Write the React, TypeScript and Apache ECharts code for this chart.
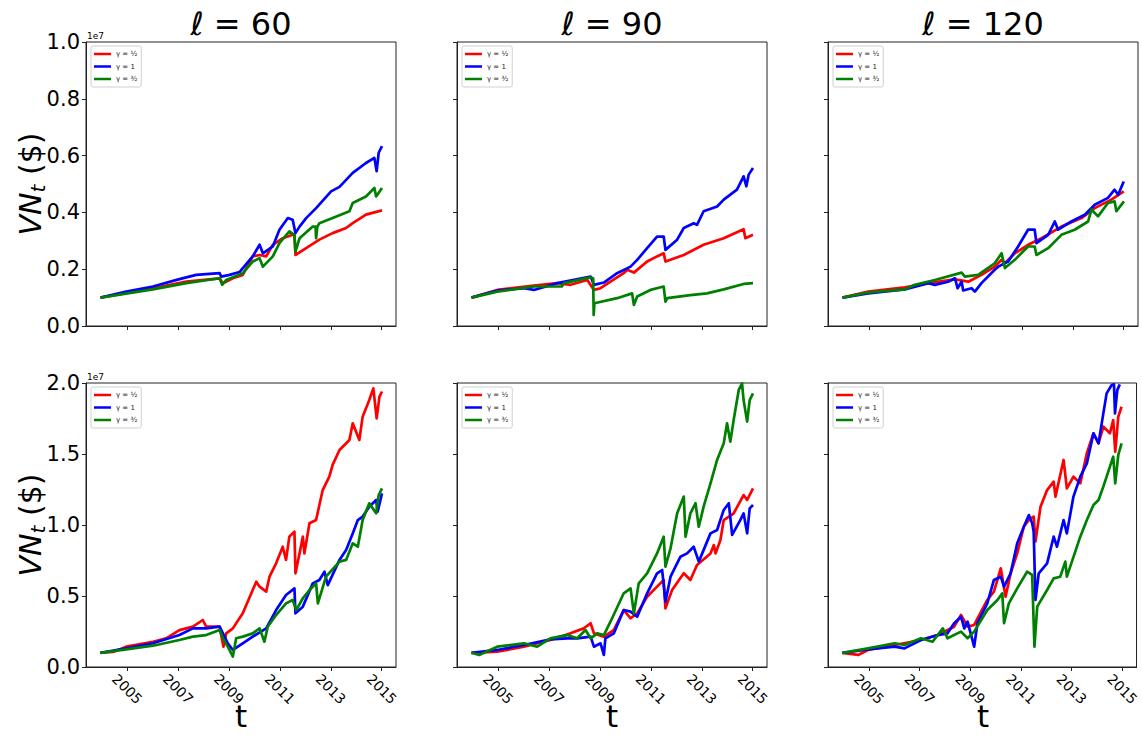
import React, { useEffect, useRef } from "react";
import * as echarts from "echarts";

// ---------- DATA (values in units of 1e7 $) ----------
const windows = [60, 90, 120];
const yearTicks = [2005, 2007, 2009, 2011, 2013, 2015];
const gammaNames = ["γ = ½", "γ = 1", "γ = ³⁄₂"];
const topTicksMax = 1.0;
const bottomTicksMax = 2.0;

// Top row (l = 60)
const red60a = [[2003.95,0.10],[2006.01,0.133],[2007.32,0.156],[2008.63,0.168],[2008.76,0.15],[2009.15,0.168],[2009.54,0.18],[2009.93,0.245],[2010.2,0.25],[2010.46,0.245],[2010.72,0.286],[2011.11,0.309],[2011.5,0.321],[2011.57,0.32],[2011.61,0.25],[2012.03,0.274],[2012.55,0.304],[2013.07,0.327],[2013.6,0.345],[2013.86,0.362],[2014.38,0.392],[2015.01,0.407]];
const blue60a = [[2003.95,0.10],[2004.96,0.121],[2006.01,0.139],[2007.05,0.165],[2007.71,0.18],[2008.63,0.186],[2008.69,0.174],[2009.02,0.18],[2009.41,0.19],[2009.93,0.245],[2010.2,0.286],[2010.33,0.256],[2010.72,0.28],[2010.98,0.339],[2011.31,0.38],[2011.5,0.374],[2011.61,0.327],[2011.77,0.35],[2012.03,0.38],[2012.42,0.415],[2013.01,0.474],[2013.34,0.49],[2013.86,0.539],[2014.38,0.574],[2014.71,0.592],[2014.8,0.545],[2014.88,0.61],[2015.01,0.633]];
const green60a = [[2003.95,0.10],[2006.01,0.129],[2007.32,0.151],[2008.63,0.168],[2008.73,0.145],[2008.89,0.162],[2009.54,0.186],[2009.93,0.227],[2010.2,0.239],[2010.33,0.209],[2010.72,0.245],[2010.98,0.292],[2011.37,0.333],[2011.57,0.32],[2011.61,0.262],[2011.77,0.309],[2012.29,0.35],[2012.4,0.35],[2012.42,0.309],[2012.47,0.35],[2012.55,0.362],[2013.07,0.38],[2013.73,0.404],[2013.86,0.433],[2014.38,0.456],[2014.71,0.486],[2014.78,0.456],[2015.01,0.486]];

// Top row (l = 90)
const red90a = [[2003.95,0.10],[2004.96,0.127],[2006.4,0.142],[2007.32,0.151],[2007.84,0.145],[2008.5,0.162],[2008.76,0.127],[2009.02,0.133],[2009.41,0.156],[2009.93,0.186],[2010.07,0.198],[2010.33,0.188],[2010.85,0.227],[2011.24,0.245],[2011.5,0.256],[2011.57,0.227],[2012.29,0.25],[2013.07,0.286],[2013.86,0.309],[2014.64,0.341],[2014.71,0.309],[2015.01,0.321]];
const blue90a = [[2003.95,0.10],[2004.96,0.125],[2006.01,0.133],[2006.4,0.127],[2007.32,0.151],[2008.63,0.174],[2008.76,0.145],[2009.15,0.153],[2009.67,0.186],[2010.2,0.209],[2010.46,0.233],[2010.85,0.274],[2011.24,0.315],[2011.5,0.315],[2011.57,0.268],[2012.03,0.304],[2012.29,0.345],[2012.68,0.362],[2012.81,0.356],[2013.07,0.404],[2013.6,0.421],[2013.86,0.445],[2014.38,0.48],[2014.64,0.527],[2014.75,0.492],[2014.84,0.533],[2015.01,0.556]];
const green90a = [[2003.95,0.10],[2004.96,0.121],[2006.4,0.139],[2007.5,0.139],[2007.58,0.151],[2008.63,0.171],[2008.73,0.168],[2008.75,0.039],[2008.78,0.08],[2009.67,0.098],[2010.26,0.115],[2010.33,0.074],[2010.46,0.104],[2010.98,0.127],[2011.5,0.139],[2011.57,0.086],[2011.64,0.098],[2012.55,0.109],[2013.2,0.115],[2013.86,0.129],[2014.64,0.148],[2015.01,0.151]];

// Top row (l = 120)
const red120a = [[2003.95,0.10],[2004.96,0.121],[2006.4,0.136],[2007.32,0.151],[2008.37,0.164],[2008.89,0.156],[2009.41,0.18],[2009.93,0.209],[2010.2,0.233],[2010.33,0.221],[2010.72,0.256],[2011.24,0.286],[2011.77,0.309],[2012.55,0.35],[2013.34,0.38],[2013.86,0.415],[2014.51,0.445],[2015.0,0.474]];
const blue120a = [[2003.95,0.10],[2004.96,0.115],[2006.4,0.129],[2007.32,0.151],[2007.58,0.145],[2008.1,0.156],[2008.37,0.168],[2008.47,0.133],[2008.63,0.156],[2008.69,0.125],[2009.02,0.133],[2009.15,0.121],[2009.41,0.151],[2009.93,0.198],[2010.07,0.209],[2010.46,0.227],[2010.85,0.28],[2011.24,0.339],[2011.5,0.339],[2011.57,0.292],[2012.03,0.321],[2012.29,0.368],[2012.42,0.339],[2012.94,0.368],[2013.47,0.392],[2013.86,0.427],[2014.38,0.451],[2014.64,0.48],[2014.78,0.462],[2015.0,0.509]];
const green120a = [[2003.95,0.10],[2004.96,0.118],[2006.4,0.129],[2006.79,0.145],[2007.58,0.162],[2008.63,0.188],[2008.76,0.174],[2009.28,0.18],[2009.93,0.221],[2010.2,0.256],[2010.33,0.204],[2010.72,0.233],[2011.24,0.28],[2011.5,0.28],[2011.57,0.25],[2012.03,0.274],[2012.55,0.321],[2013.07,0.339],[2013.6,0.368],[2013.73,0.41],[2013.99,0.386],[2014.38,0.433],[2014.64,0.439],[2014.71,0.404],[2015.01,0.439]];

// Bottom row (l = 60)
const red60b = [[2003.95,0.101],[2004.44,0.106],[2004.96,0.143],[2006.01,0.178],[2006.53,0.202],[2007.05,0.26],[2007.58,0.284],[2007.97,0.331],[2008.1,0.284],[2008.63,0.284],[2008.78,0.143],[2008.89,0.237],[2009.15,0.272],[2009.54,0.378],[2009.93,0.542],[2010.07,0.601],[2010.2,0.566],[2010.46,0.531],[2010.59,0.636],[2010.85,0.73],[2011.11,0.847],[2011.24,0.754],[2011.37,0.918],[2011.57,0.953],[2011.61,0.66],[2011.77,0.8],[2011.9,0.918],[2011.96,0.8],[2012.16,1.012],[2012.42,1.035],[2012.68,1.246],[2012.94,1.34],[2013.07,1.423],[2013.34,1.528],[2013.73,1.599],[2013.86,1.716],[2014.12,1.599],[2014.25,1.763],[2014.51,1.88],[2014.67,1.962],[2014.8,1.751],[2014.91,1.904],[2015.01,1.94]];
const blue60b = [[2003.95,0.10],[2004.96,0.131],[2006.01,0.167],[2007.05,0.225],[2007.58,0.272],[2008.1,0.272],[2008.63,0.284],[2008.76,0.237],[2008.95,0.167],[2009.15,0.12],[2009.54,0.167],[2009.93,0.214],[2010.46,0.272],[2010.85,0.401],[2011.24,0.507],[2011.57,0.554],[2011.61,0.378],[2011.9,0.425],[2012.29,0.589],[2012.55,0.613],[2012.75,0.671],[2012.88,0.577],[2013.34,0.754],[2013.6,0.824],[2013.86,0.941],[2014.06,1.035],[2014.25,1.059],[2014.51,1.129],[2014.78,1.176],[2014.84,1.094],[2015.01,1.223]];
const green60b = [[2003.95,0.10],[2004.96,0.124],[2006.01,0.15],[2007.05,0.19],[2007.58,0.214],[2008.1,0.225],[2008.63,0.26],[2008.76,0.202],[2008.95,0.143],[2009.15,0.073],[2009.28,0.202],[2009.54,0.214],[2009.93,0.237],[2010.2,0.272],[2010.39,0.178],[2010.52,0.284],[2010.85,0.366],[2011.24,0.448],[2011.5,0.472],[2011.64,0.401],[2011.9,0.484],[2012.16,0.542],[2012.42,0.589],[2012.49,0.448],[2012.81,0.636],[2013.34,0.742],[2013.6,0.754],[2013.86,0.871],[2014.06,0.847],[2014.25,1.035],[2014.51,1.153],[2014.78,1.082],[2014.88,1.211],[2015.01,1.258]];

// Bottom row (l = 90)
const red90b = [[2003.95,0.10],[2004.96,0.108],[2006.01,0.143],[2007.05,0.19],[2007.84,0.237],[2008.36,0.272],[2008.63,0.308],[2008.76,0.237],[2009.15,0.214],[2009.54,0.26],[2009.93,0.401],[2010.2,0.343],[2010.46,0.378],[2010.85,0.495],[2011.24,0.566],[2011.5,0.613],[2011.57,0.413],[2011.83,0.542],[2012.29,0.66],[2012.55,0.613],[2012.81,0.718],[2013.34,0.8],[2013.47,0.859],[2013.54,0.8],[2013.73,0.894],[2013.86,1.035],[2014.25,1.082],[2014.64,1.211],[2014.78,1.176],[2015.01,1.258]];
const blue90b = [[2003.95,0.10],[2004.96,0.12],[2006.01,0.155],[2007.05,0.195],[2007.71,0.202],[2008.1,0.202],[2008.63,0.214],[2008.76,0.143],[2009.02,0.167],[2009.15,0.085],[2009.21,0.202],[2009.54,0.237],[2009.93,0.401],[2010.2,0.39],[2010.46,0.354],[2010.85,0.519],[2011.24,0.66],[2011.44,0.683],[2011.57,0.46],[2011.77,0.636],[2012.16,0.777],[2012.42,0.8],[2012.68,0.847],[2012.88,0.742],[2013.34,0.941],[2013.6,0.965],[2013.86,1.106],[2014.06,1.153],[2014.19,0.93],[2014.51,1.035],[2014.64,1.082],[2014.78,0.941],[2014.88,1.117],[2015.01,1.141]];
const green90b = [[2003.95,0.10],[2004.25,0.085],[2004.96,0.143],[2006.01,0.167],[2006.53,0.143],[2007.05,0.202],[2007.71,0.225],[2008.1,0.202],[2008.43,0.26],[2008.63,0.202],[2008.89,0.237],[2009.15,0.225],[2009.41,0.319],[2009.93,0.519],[2010.2,0.554],[2010.33,0.378],[2010.52,0.589],[2010.85,0.66],[2011.24,0.8],[2011.5,0.918],[2011.57,0.707],[2011.77,0.836],[2012.03,1.082],[2012.29,1.2],[2012.36,0.918],[2012.55,1.082],[2012.75,1.153],[2012.88,0.988],[2013.07,1.129],[2013.34,1.293],[2013.6,1.458],[2013.86,1.575],[2013.99,1.716],[2014.12,1.587],[2014.25,1.739],[2014.45,1.951],[2014.58,1.998],[2014.64,1.88],[2014.78,1.728],[2014.88,1.88],[2015.01,1.927]];

// Bottom row (l = 120)
const red120b = [[2003.95,0.10],[2004.57,0.085],[2004.96,0.12],[2006.01,0.155],[2007.05,0.19],[2007.71,0.225],[2008.36,0.284],[2008.63,0.366],[2008.89,0.284],[2009.15,0.296],[2009.67,0.472],[2009.93,0.531],[2010.2,0.695],[2010.39,0.495],[2010.59,0.66],[2010.85,0.8],[2011.11,0.988],[2011.31,1.035],[2011.5,1.059],[2011.57,0.883],[2011.77,1.129],[2012.03,1.246],[2012.29,1.305],[2012.36,1.2],[2012.68,1.458],[2012.81,1.258],[2013.07,1.34],[2013.34,1.293],[2013.6,1.505],[2013.86,1.646],[2014.06,1.575],[2014.25,1.693],[2014.51,1.646],[2014.64,1.739],[2014.72,1.516],[2014.84,1.763],[2014.97,1.833]];
const blue120b = [[2003.95,0.10],[2004.96,0.124],[2006.01,0.143],[2006.4,0.131],[2007.05,0.19],[2007.71,0.225],[2008.1,0.237],[2008.36,0.308],[2008.63,0.354],[2008.76,0.272],[2008.89,0.319],[2009.15,0.143],[2009.28,0.308],[2009.67,0.448],[2009.93,0.613],[2010.2,0.636],[2010.33,0.566],[2010.59,0.66],[2010.85,0.871],[2011.11,0.988],[2011.31,1.07],[2011.44,1.012],[2011.5,0.953],[2011.57,0.472],[2011.7,0.66],[2012.03,0.73],[2012.29,0.918],[2012.42,0.847],[2012.68,1.035],[2012.81,0.941],[2013.07,1.2],[2013.34,1.34],[2013.6,1.434],[2013.86,1.646],[2014.06,1.575],[2014.25,1.786],[2014.38,1.927],[2014.58,1.986],[2014.67,1.99],[2014.71,1.786],[2014.8,1.95],[2014.9,1.99]];
const green120b = [[2003.95,0.10],[2004.96,0.131],[2006.01,0.167],[2006.4,0.155],[2007.05,0.202],[2007.51,0.178],[2007.91,0.272],[2008.1,0.202],[2008.63,0.249],[2008.89,0.202],[2009.15,0.249],[2009.67,0.401],[2010.07,0.472],[2010.26,0.519],[2010.33,0.308],[2010.52,0.448],[2010.85,0.554],[2011.24,0.671],[2011.44,0.648],[2011.53,0.143],[2011.64,0.425],[2012.03,0.542],[2012.29,0.624],[2012.55,0.636],[2012.75,0.742],[2012.81,0.636],[2013.34,0.918],[2013.6,1.035],[2013.86,1.141],[2014.06,1.176],[2014.25,1.27],[2014.51,1.411],[2014.64,1.481],[2014.72,1.293],[2014.84,1.493],[2014.97,1.575]];

const panelData = [
  [red60a, blue60a, green60a],
  [red90a, blue90a, green90a],
  [red120a, blue120a, green120a],
  [red60b, blue60b, green60b],
  [red90b, blue90b, green90b],
  [red120b, blue120b, green120b],
];

// ---------- LAYOUT / STYLE ----------
const COLORS = ["#ff0000", "#0000ff", "#008000"];
const FONT = "DejaVu Sans";
const COL_LEFT = [86, 457, 828];
const ROW_TOP = [42, 383];
const GW = 310;
const GH = 284;
const X_MIN = 2003.38;
const X_MAX = 2015.56;

export default function App() {
  const ref = useRef<HTMLDivElement>(null);

  useEffect(() => {
    if (!ref.current) return;
    const chart = echarts.init(ref.current, undefined, { renderer: "svg" });

    const grids: any[] = [];
    const xAxes: any[] = [];
    const yAxes: any[] = [];
    const legends: any[] = [];
    const series: any[] = [];
    const graphics: any[] = [];

    for (let p = 0; p < 6; p++) {
      const row = p < 3 ? 0 : 1;
      const col = p % 3;
      const left = COL_LEFT[col];
      const top = ROW_TOP[row];
      grids.push({
        left, top, width: GW, height: GH,
        show: true, borderColor: "#222", borderWidth: 1, backgroundColor: "transparent",
        containLabel: false,
      });
      xAxes.push({
        type: "value", gridIndex: p, min: X_MIN, max: X_MAX,
        axisLine: { show: true, lineStyle: { color: "#222", width: 1 } },
        axisTick: { show: true, inside: false, length: 4, customValues: yearTicks, lineStyle: { color: "#222" } },
        axisLabel: {
          show: row === 1, customValues: yearTicks, rotate: -45, align: "center", verticalAlign: "middle",
          margin: 22, fontSize: 14, color: "#000", fontFamily: FONT,
          formatter: (v: number) => String(Math.round(v)),
        },
        splitLine: { show: false },
      });
      const yMax = row === 0 ? topTicksMax : bottomTicksMax;
      yAxes.push({
        type: "value", gridIndex: p, min: 0, max: yMax, interval: row === 0 ? 0.2 : 0.5,
        axisLine: { show: true, lineStyle: { color: "#222", width: 1 } },
        axisTick: { show: true, inside: false, length: 4, lineStyle: { color: "#222" } },
        axisLabel: {
          show: col === 0, margin: 6, fontSize: 21, color: "#000", fontFamily: FONT,
          formatter: (v: number) => v.toFixed(1),
        },
        splitLine: { show: false },
      });
      legends.push({
        data: gammaNames, orient: "vertical", left: left + 5, top: top + 4,
        icon: "rect", itemWidth: 17, itemHeight: 2.5, itemGap: 4.5,
        padding: [4, 4, 4, 3], backgroundColor: "#fff", borderColor: "#d0d0d0", borderWidth: 1,
        borderRadius: 2, selectedMode: false,
        textStyle: { fontSize: 7, color: "#222", fontFamily: FONT, lineHeight: 8 },
      });
      panelData[p].forEach((d, k) => {
        series.push({
          type: "line", name: gammaNames[k], xAxisIndex: p, yAxisIndex: p,
          data: d, showSymbol: false, symbol: "none", clip: true,
          lineStyle: { color: COLORS[k], width: 2.7, join: "round" },
          itemStyle: { color: COLORS[k] },
          emphasis: { disabled: true }, z: 2 + k,
        });
      });
      if (col === 0) {
        graphics.push({
          type: "text", x: left + 1, y: top - 2,
          style: { text: "1e7", fontSize: 9, fill: "#000", fontFamily: FONT, align: "left", verticalAlign: "bottom" },
        });
        graphics.push({
          type: "text", x: 30, y: top + GH / 2, rotation: Math.PI / 2,
          style: {
            text: "{v|VN}{s|t}{n| ($)}", align: "center", verticalAlign: "middle", fill: "#000",
            rich: {
              v: { fontSize: 30, fontStyle: "italic", fontFamily: FONT, lineHeight: 36, fill: "#000" },
              s: { fontSize: 20, fontStyle: "italic", fontFamily: FONT, lineHeight: 36, verticalAlign: "bottom", fill: "#000" },
              n: { fontSize: 30, fontFamily: FONT, lineHeight: 36, fill: "#000" },
            },
          },
        });
      }
      if (row === 0) {
        graphics.push({
          type: "text", x: left + GW / 2, y: 23.5,
          style: { text: "ℓ = " + windows[col], fontSize: 32, fill: "#000", fontFamily: FONT, align: "center", verticalAlign: "middle" },
        });
      } else {
        graphics.push({
          type: "text", x: left + GW / 2, y: 716,
          style: { text: "t", fontSize: 31, lineHeight: 31, fill: "#000", fontFamily: FONT, align: "center", verticalAlign: "middle" },
        });
      }
    }

    chart.setOption({
      animation: false,
      backgroundColor: "#fff",
      textStyle: { fontFamily: FONT },
      grid: grids,
      xAxis: xAxes,
      yAxis: yAxes,
      legend: legends,
      series,
      graphic: graphics,
    });

    return () => chart.dispose();
  }, []);

  return (
    <div
      ref={ref}
      style={{ position: "absolute", left: 0, top: 0, width: 1142, height: 736, background: "#fff" }}
    />
  );
}
